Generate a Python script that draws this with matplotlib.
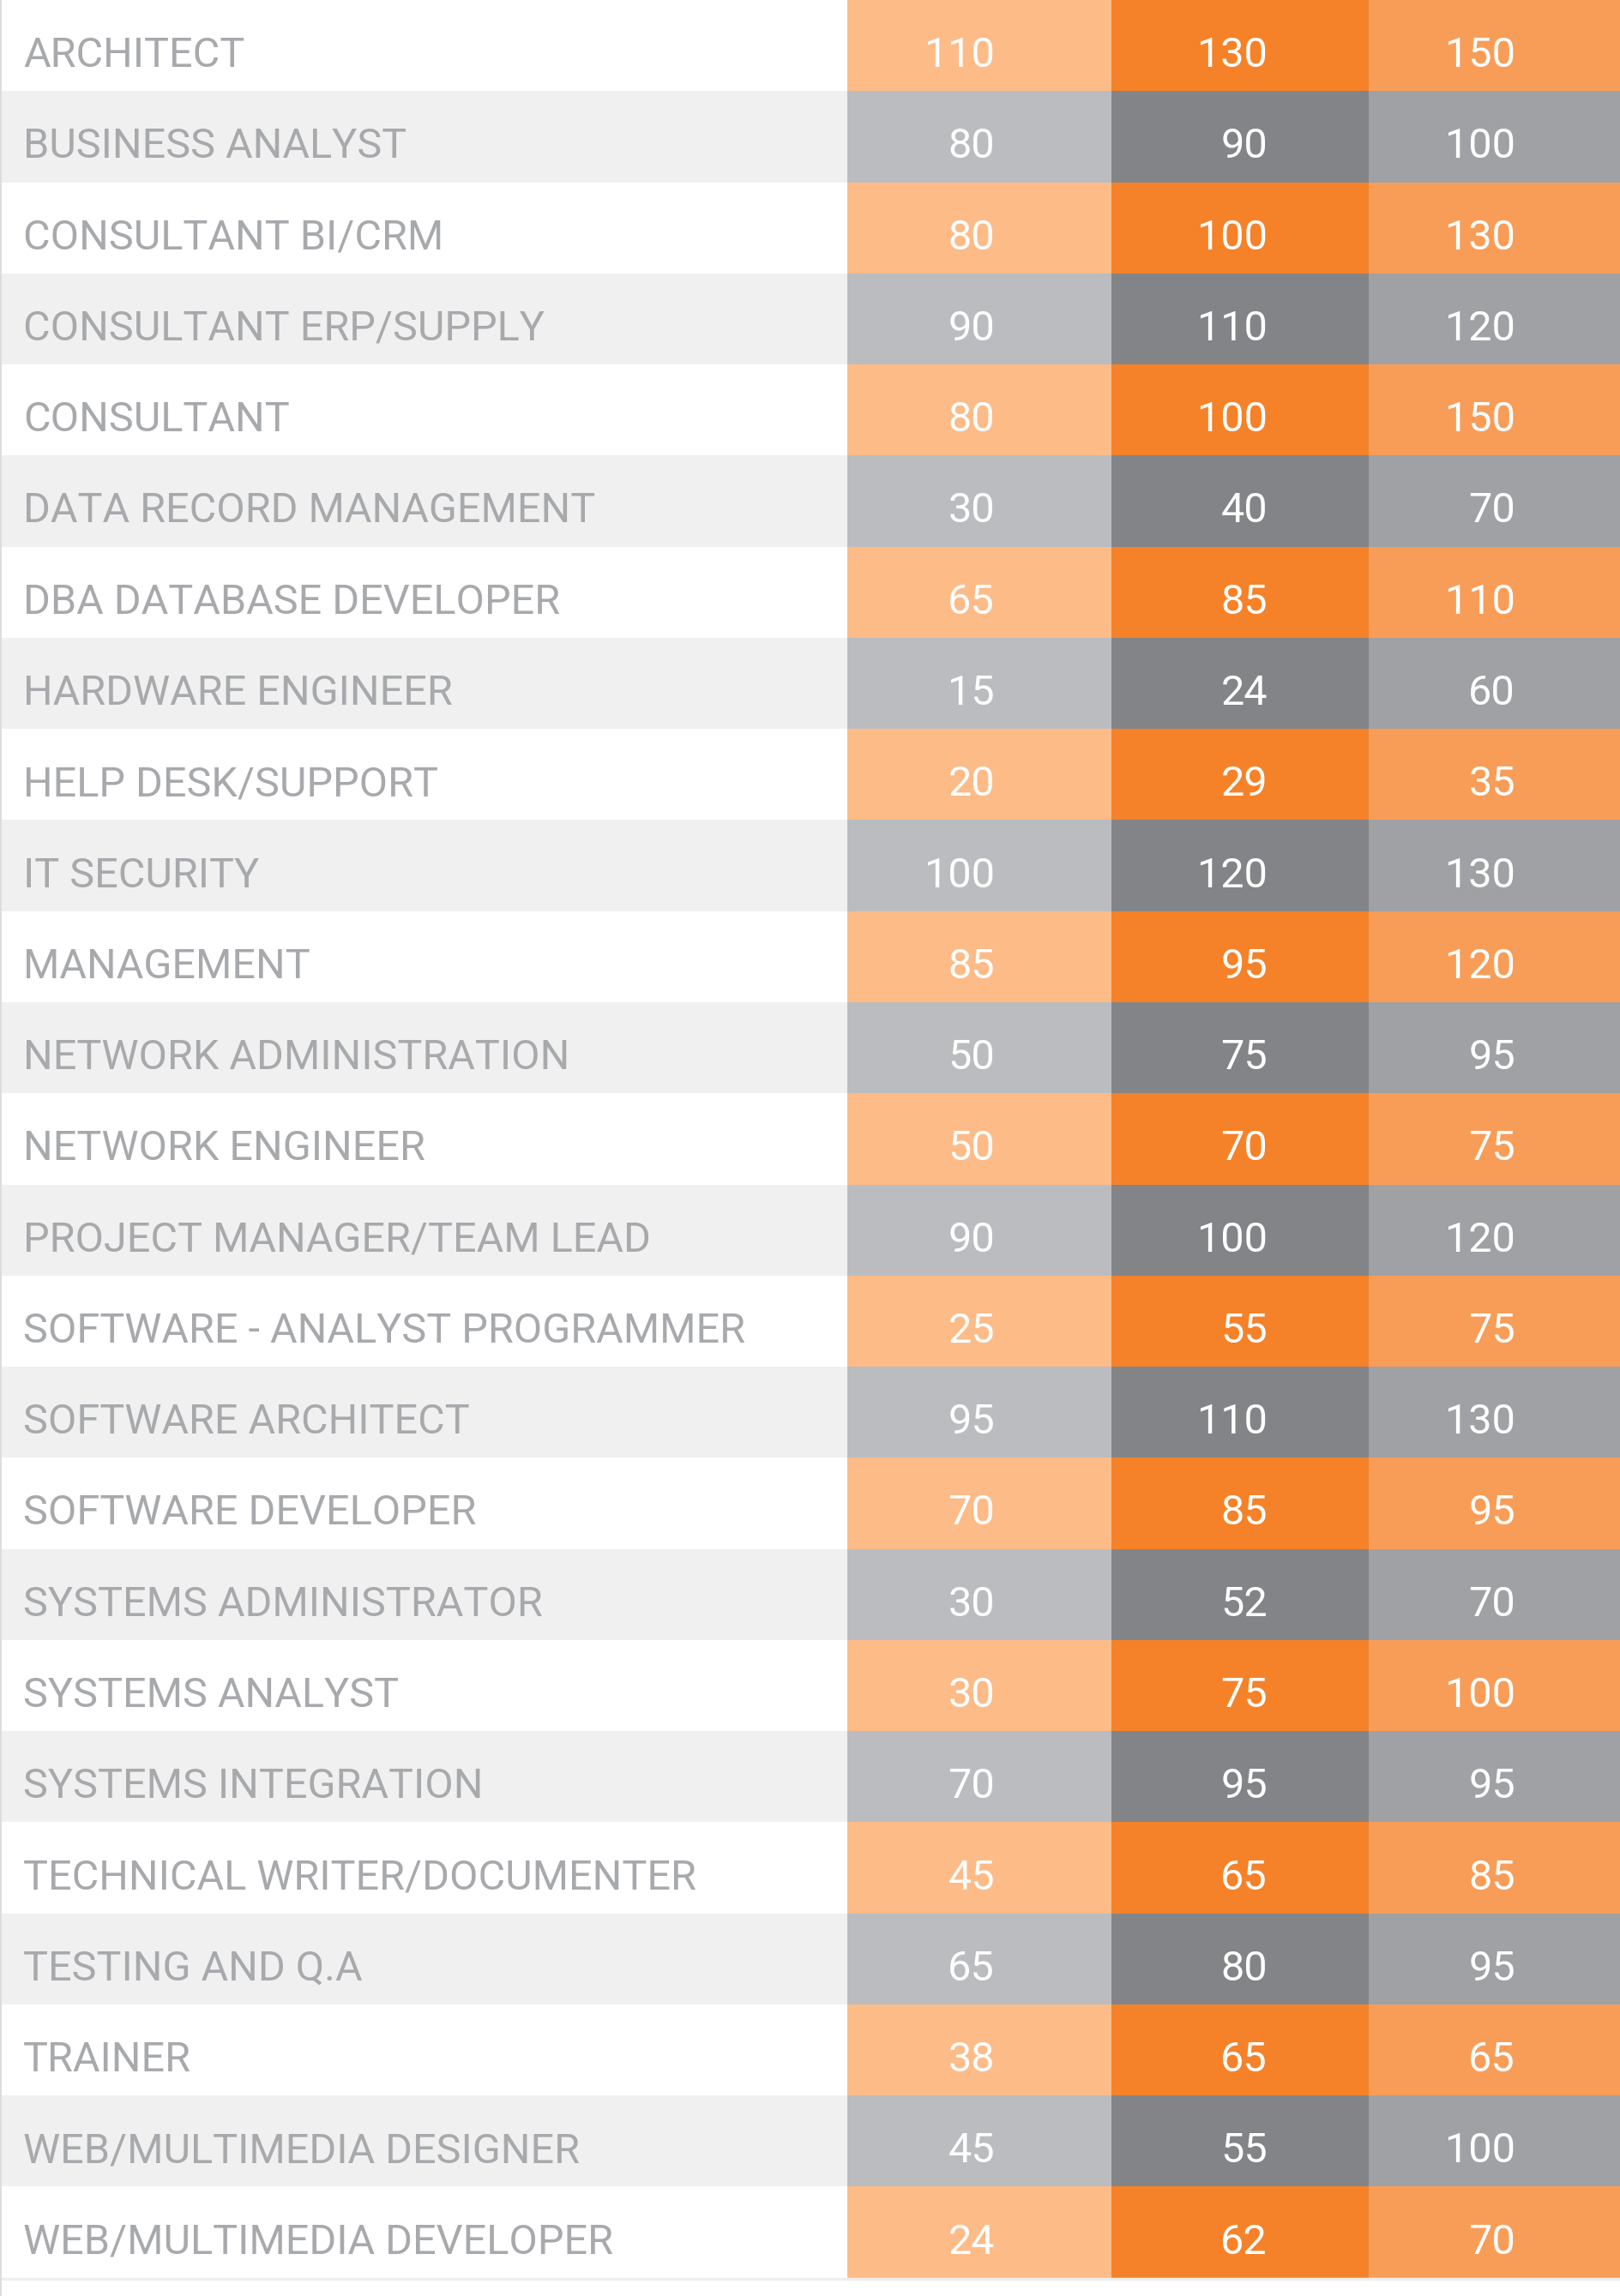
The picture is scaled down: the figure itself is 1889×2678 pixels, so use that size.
import matplotlib.pyplot as plt
from matplotlib import font_manager

# job titles and the three rate columns
roles = ['ARCHITECT', 'BUSINESS ANALYST', 'CONSULTANT BI/CRM', 'CONSULTANT ERP/SUPPLY',
         'CONSULTANT', 'DATA RECORD MANAGEMENT', 'DBA DATABASE DEVELOPER',
         'HARDWARE ENGINEER', 'HELP DESK/SUPPORT', 'IT SECURITY', 'MANAGEMENT',
         'NETWORK ADMINISTRATION', 'NETWORK ENGINEER', 'PROJECT MANAGER/TEAM LEAD',
         'SOFTWARE - ANALYST PROGRAMMER', 'SOFTWARE ARCHITECT', 'SOFTWARE DEVELOPER',
         'SYSTEMS ADMINISTRATOR', 'SYSTEMS ANALYST', 'SYSTEMS INTEGRATION',
         'TECHNICAL WRITER/DOCUMENTER', 'TESTING AND Q.A', 'TRAINER',
         'WEB/MULTIMEDIA DESIGNER', 'WEB/MULTIMEDIA DEVELOPER']
low = [110, 80, 80, 90, 80, 30, 65, 15, 20, 100, 85, 50, 50, 90, 25, 95, 70, 30, 30, 70, 45, 65, 38, 45, 24]
mid = [130, 90, 100, 110, 100, 40, 85, 24, 29, 120, 95, 75, 70, 100, 55, 110, 85, 52, 75, 95, 65, 80, 65, 55, 62]
high = [150, 100, 130, 120, 150, 70, 110, 60, 35, 130, 120, 95, 75, 120, 75, 130, 95, 70, 100, 95, 85, 95, 65, 100, 70]

orange = ['#FDBB88', '#F58229', '#F89D58']
grey = ['#BBBCBF', '#838487', '#A0A1A4']
label_bg = ['#FFFFFF', '#F0F0F0']

names = {f.name for f in font_manager.fontManager.ttflist}
fam = 'Roboto' if 'Roboto' in names else 'DejaVu Sans'

fig = plt.figure(figsize=(18.9, 26.78), dpi=100)
ax = fig.add_axes([0, 0, 1, 1])
n = len(roles)
ax.set_xlim(0, 1890)
ax.set_ylim(n + 0.2, 0)
ax.axis('off')

rows = list(range(n))
# label column background
ax.barh([r + 0.5 for r in rows], 988, left=0, height=1,
        color=[label_bg[r % 2] for r in rows], linewidth=0)

col_left = [988, 1296, 1596]
col_width = [308, 300, 294]
text_right = [1160, 1478, 1767]
for c, vals in enumerate([low, mid, high]):
    ax.barh([r + 0.5 for r in rows], col_width[c], left=col_left[c], height=1,
            color=[orange[c] if r % 2 == 0 else grey[c] for r in rows], linewidth=0)
    for r, v in zip(rows, vals):
        ax.text(text_right[c], r + 0.735, str(v), ha='right', va='baseline',
                color='white', fontsize=35, family=fam, fontweight='normal')

for r, name in zip(rows, roles):
    ax.text(27, r + 0.735, name, ha='left', va='baseline',
            color='#A7A9AC', fontsize=35, family=fam, fontweight='normal')

# thin borders
ax.axhline(n + 0.015, color='#EEEEEE', linewidth=2.5)
ax.axvline(1, color='#DDDDDD', linewidth=1.5)

fig.savefig('out.png', dpi=100)
